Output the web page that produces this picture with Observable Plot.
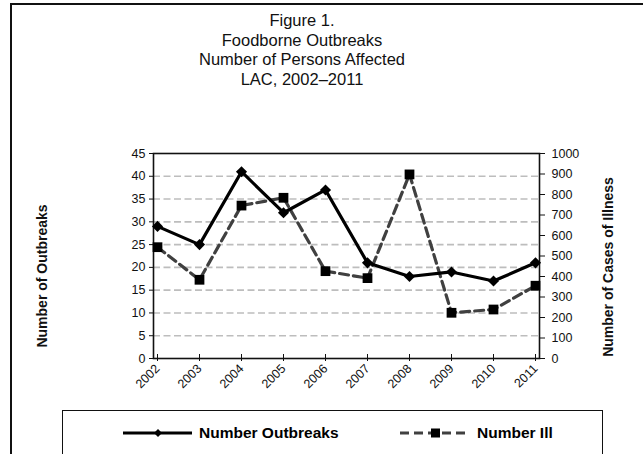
<!DOCTYPE html>
<html>
<head>
<meta charset="utf-8">
<script src="https://cdn.jsdelivr.net/npm/d3@7"></script>
<script src="https://cdn.jsdelivr.net/npm/@observablehq/plot@0.6"></script>
<style>
  html, body { margin: 0; padding: 0; background: #fff; }
  body { width: 643px; height: 454px; overflow: hidden; position: relative; font-family: "Liberation Sans", Arial, sans-serif; }
  #border { position: absolute; left: 10px; top: 3px; width: 700px; height: 520px; border: 2.5px solid #111; box-sizing: border-box; }
  #title { position: absolute; left: 0; top: 11px; width: 604px; text-align: center; font-size: 16.5px; line-height: 19.5px; color: #111; }
  #chart { position: absolute; left: 0; top: 0; }
  .ylab { position: absolute; font-weight: bold; font-size: 14px; color: #111; white-space: nowrap; transform: translate(-50%, -50%) rotate(-90deg); }
  #legend { position: absolute; left: 62px; top: 410px; width: 541px; height: 80px; border: 1.5px solid #111; box-sizing: border-box; }
  #legsvg { position: absolute; left: 0; top: 0; }
</style>
</head>
<body>
<div id="border"></div>
<div id="title">Figure 1.<br>Foodborne Outbreaks<br>Number of Persons Affected<br>LAC, 2002–2011</div>
<div id="chart"></div>
<div class="ylab" style="left:42px; top:276px;">Number of Outbreaks</div>
<div class="ylab" style="left:608px; top:267px;">Number of Cases of Illness</div>
<div id="legend"></div>
<svg id="legsvg" width="643" height="454"></svg>
<script>
const years = ["2002","2003","2004","2005","2006","2007","2008","2009","2010","2011"];
const outbreaks = [29, 25, 41, 32, 37, 21, 18, 19, 17, 21];
const illness = [543, 384, 746, 784, 426, 392, 898, 223, 239, 355];
const leftTicks = [0, 5, 10, 15, 20, 25, 30, 35, 40, 45];
const rightTicks = [0, 100, 200, 300, 400, 500, 600, 700, 800, 900, 1000];
const seriesNames = ["Number Outbreaks", "Number Ill"];

const leftMax = 45, rightMax = 1000;
const k = leftMax / rightMax;
const data = years.map((y, i) => ({year: y, outbreaks: outbreaks[i], ill: illness[i], illScaled: illness[i] * k}));

const W = 643, H = 454, mL = 153, mR = 104, mT = 153, mB = 96;
const pxPerUnit = (H - mT - mB) / leftMax;

const plot = Plot.plot({
  width: W,
  height: H,
  marginLeft: mL,
  marginRight: mR,
  marginTop: mT,
  marginBottom: mB,
  style: {fontFamily: "Liberation Sans, Arial, sans-serif", fontSize: "12px", color: "#111", background: "transparent"},
  x: {type: "point", domain: years, padding: 0},
  y: {type: "linear", domain: [0, leftMax]},
  marks: [
    Plot.ruleY(leftTicks.filter(d => d > 0 && d < leftMax), {stroke: "#bdbdbd", strokeWidth: 1.6, strokeDasharray: "7,3.5"}),
    Plot.axisY({anchor: "left", ticks: leftTicks, tickSize: 4, tickPadding: 4, label: null, fontSize: 12.5}),
    Plot.axisY({anchor: "right", ticks: rightTicks.map(d => d * k), tickFormat: d => String(Math.round(d / k)), tickSize: 5, tickPadding: 7, label: null, fontSize: 12.5}),
    Plot.axisX({anchor: "bottom", ticks: years, tickSize: 3, tickRotate: -45, tickPadding: 5, label: null, fontSize: 12.5}),
    Plot.ruleX(years, {x: d => d, y1: 0, y2: 4 / pxPerUnit, stroke: "#111", strokeWidth: 1}),
    Plot.frame({stroke: "#111", strokeWidth: 1.6}),
    Plot.line(data, {x: "year", y: "illScaled", stroke: "#404040", strokeWidth: 3.2, strokeDasharray: "9,5"}),
    Plot.line(data, {x: "year", y: "outbreaks", stroke: "#000", strokeWidth: 3.2}),
    Plot.dot(data, {x: "year", y: "illScaled", symbol: "square", r: 5.5, fill: "#000", stroke: "none"}),
    Plot.dot(data, {x: "year", y: "outbreaks", symbol: "diamond2", r: 5, fill: "#000", stroke: "none"})
  ]
});
document.getElementById("chart").appendChild(plot);

// legend
const lg = d3.select("#legsvg");
const cy = 433;
lg.append("line").attr("x1", 123).attr("x2", 192).attr("y1", cy).attr("y2", cy).attr("stroke", "#000").attr("stroke-width", 3.2);
lg.append("path").attr("d", d3.symbol(d3.symbolDiamond2, 40)()).attr("transform", `translate(158,${cy})`).attr("fill", "#000");
lg.append("text").attr("x", 199).attr("y", cy).attr("dy", "0.35em").attr("font-weight", "bold").attr("font-size", 15.5).attr("font-family", "Liberation Sans, Arial, sans-serif").text(seriesNames[0]);
lg.append("line").attr("x1", 400).attr("x2", 470).attr("y1", cy).attr("y2", cy).attr("stroke", "#404040").attr("stroke-width", 3.2).attr("stroke-dasharray", "9,5");
lg.append("rect").attr("x", 431).attr("y", cy - 4.5).attr("width", 9).attr("height", 9).attr("fill", "#000");
lg.append("text").attr("x", 477).attr("y", cy).attr("dy", "0.35em").attr("font-weight", "bold").attr("font-size", 15.5).attr("font-family", "Liberation Sans, Arial, sans-serif").text(seriesNames[1]);
</script>
</body>
</html>
